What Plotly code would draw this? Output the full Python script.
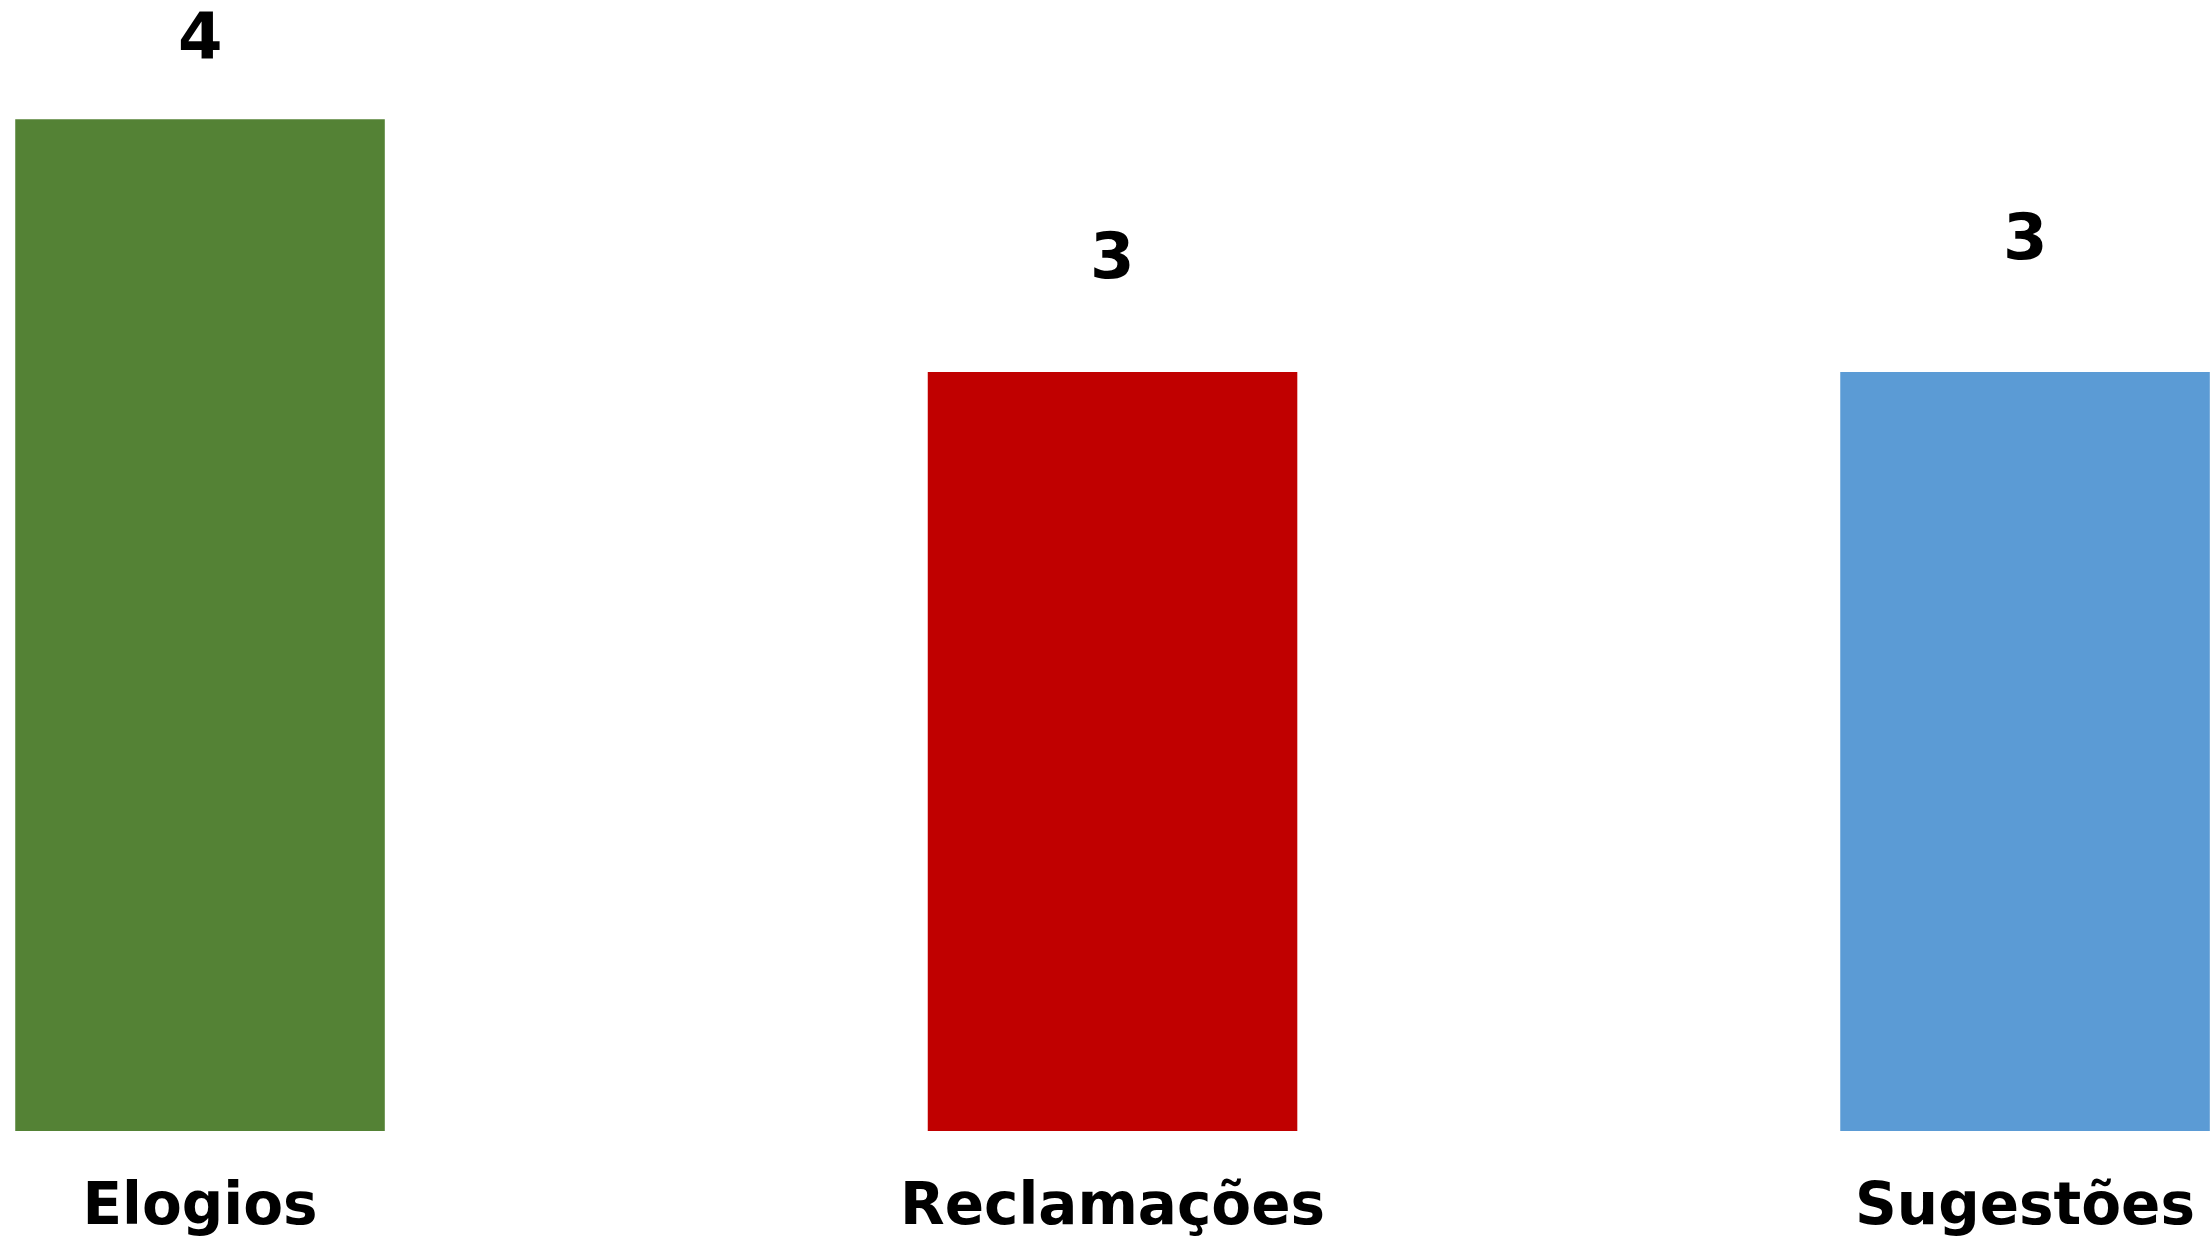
import plotly.graph_objects as go

categories = ["Elogios", "Reclamações", "Sugestões"]
values = [4, 3, 3]
value_labels = ["4", "3", "3"]
colors = ["#548235", "#C00000", "#5B9BD5"]
label_offsets = [82, 116, 135]  # px above bar top (style)

fig = go.Figure()
fig.add_trace(go.Bar(
    x=categories, y=values,
    marker=dict(color=colors, line=dict(width=0)),
    showlegend=False,
))

for cat, v, lab, off in zip(categories, values, value_labels, label_offsets):
    fig.add_annotation(
        x=cat, y=v, text=lab, showarrow=False,
        yanchor="middle", xanchor="center", yshift=off,
        font=dict(family="DejaVu Sans", size=64, color="#000000", weight="bold"),
    )

fig.update_layout(
    width=2210, height=1238,
    margin=dict(l=0, r=0, t=0, b=105),
    paper_bgcolor="white", plot_bgcolor="white",
    bargap=0.595,
    xaxis=dict(
        range=[-0.2192, 2.2027], showgrid=False, zeroline=False, showline=False,
        ticks="", tickfont=dict(family="DejaVu Sans", size=58, color="#000000", weight="bold"),
        ticklabelstandoff=34,
    ),
    yaxis=dict(
        range=[0, 4.471], showgrid=False, zeroline=False, showline=False,
        showticklabels=False, ticks="",
    ),
)

fig.write_html(
    "out.html",
    config={"displayModeBar": False},
    post_script="document.body.style.margin='0';document.body.style.overflow='hidden';",
)
